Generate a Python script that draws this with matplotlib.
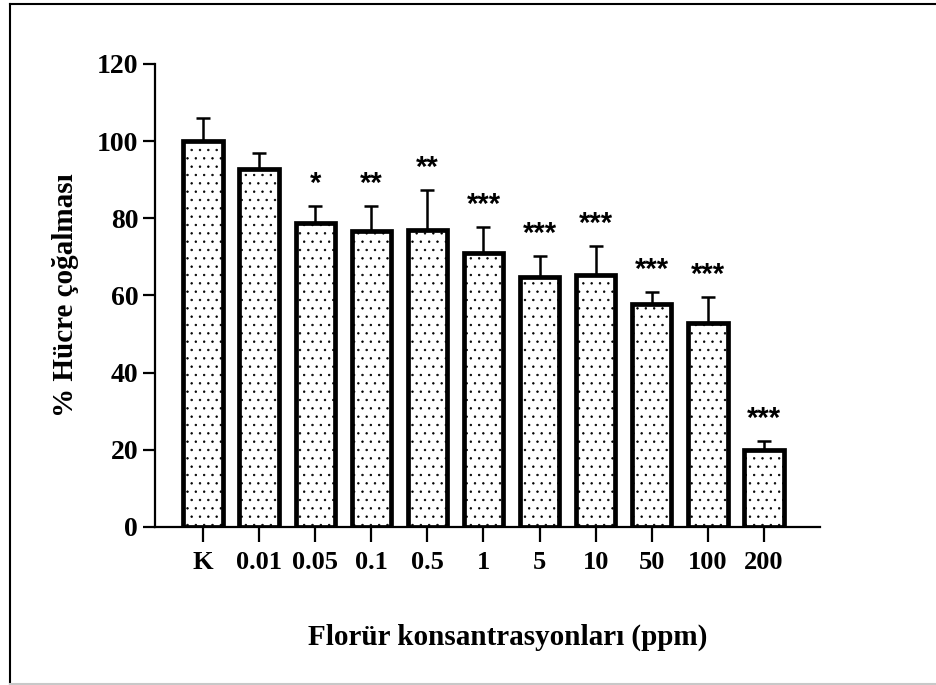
import numpy as np
import matplotlib.pyplot as plt
from matplotlib.lines import Line2D

# Data
labels = ['K', '0.01', '0.05', '0.1', '0.5', '1', '5', '10', '50', '100', '200']
means = [100.0, 92.7, 78.8, 76.7, 77.0, 71.0, 64.8, 65.3, 57.8, 52.8, 20.0]
sem = [6.0, 4.2, 4.4, 6.5, 10.3, 6.7, 5.4, 7.5, 3.1, 6.8, 2.3]
stars = ['', '', '*', '**', '**', '***', '***', '***', '***', '***', '***']

plt.rcParams['font.family'] = 'Liberation Serif'
plt.rcParams['font.weight'] = 'bold'
plt.rcParams['hatch.linewidth'] = 0.5

fig = plt.figure(figsize=(9.37, 6.85), dpi=100)
ax = fig.add_axes([0.1654, 0.2307, 0.7097, 0.6759])

x = np.arange(len(labels))
ax.bar(x, means, width=0.7, color='white', edgecolor='black',
       linewidth=3.4, hatch='..', zorder=2)
ax.errorbar(x, means, yerr=[np.zeros(len(sem)), sem], fmt='none',
            ecolor='black', elinewidth=1.8, capsize=5, capthick=1.8,
            zorder=1)

for xi, m, e, s in zip(x, means, sem, stars):
    if s:
        ax.annotate(s, (xi, m + e), xytext=(0, 6), textcoords='offset points',
                    ha='center', va='bottom', fontsize=21,
                    family='Liberation Sans', fontweight='bold')

ax.set_xlim(-0.856, 10.998)
ax.set_ylim(0, 120)
ax.set_yticks(np.arange(0, 121, 20))
ax.set_xticks(x)
ax.set_xticklabels(labels)

for side in ['top', 'right']:
    ax.spines[side].set_visible(False)
for side in ['left', 'bottom']:
    ax.spines[side].set_linewidth(1.6)

ax.tick_params(axis='y', length=8.6, width=1.6, pad=3.5, labelsize=20)
ax.tick_params(axis='x', length=11, width=1.6, pad=6, labelsize=19)

ax.set_ylabel('% Hücre çoğalması', fontsize=21, fontweight='bold')
ax.yaxis.set_label_coords(-0.115, 0.5)
fig.text(0.542, 0.07, 'Florür konsantrasyonları (ppm)', ha='center',
         va='center', fontsize=21, fontweight='bold')

# outer frame of the original screenshot
fig.add_artist(Line2D([10/937, 10/937], [0, 1 - 4/685],
                      transform=fig.transFigure, color='black', lw=1.5))
fig.add_artist(Line2D([10/937, 1], [1 - 4/685, 1 - 4/685],
                      transform=fig.transFigure, color='black', lw=1.5))
fig.add_artist(Line2D([10/937, 1], [1/685, 1/685],
                      transform=fig.transFigure, color='#c8c8c8', lw=1.5))

fig.savefig('out.png', dpi=100)
